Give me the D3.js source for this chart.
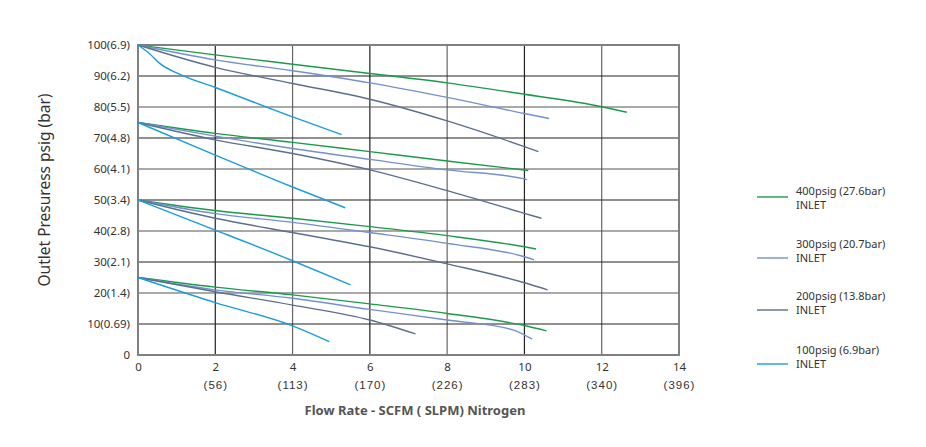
<!DOCTYPE html>
<html><head><meta charset="utf-8">
<script src="https://cdn.jsdelivr.net/npm/d3@7"></script>
<style>body{margin:0;background:#fff;}svg{display:block;font-family:"Noto Sans","Open Sans",sans-serif;}</style>
</head><body><svg id="c" width="926" height="447"></svg>
<script>
const xTicks = [0,2,4,6,8,10,12,14];
const xSubLabels = ["","(56)","(113)","(170)","(226)","(283)","(340)","(396)"];
const yTicks = [0,10,20,30,40,50,60,70,80,90,100];
const yLabels = ["0","10(0.69)","20(1.4)","30(2.1)","40(2.8)","50(3.4)","60(4.1)","70(4.8)","80(5.5)","90(6.2)","100(6.9)"];
const seriesNames = ["400psig (27.6bar)","300psig (20.7bar)","200psig (13.8bar)","100psig (6.9bar)"];
const seriesColors = ["#1a9b4b","#7391cf","#5b6f8f","#1b9ddb"];

// each series: four curves (outlet set 100, 75, 50, 25 psig)
const inlet400 = [
  [[0,100],[2,96.8],[4,93.8],[6,90.8],[8,87.8],[10,84.1],[12,80.1],[12.65,78.3]],
  [[0,75],[2,71.5],[4,68.6],[6,65.6],[8,62.6],[10.1,59.5]],
  [[0,50],[2,46.6],[4,44.1],[6,41.4],[8,38.5],[10,34.9],[10.3,34.2]],
  [[0,25],[2,21.9],[4,19.4],[6,16.5],[8,13.4],[10,9.5],[10.57,7.8]]
];
const inlet300 = [
  [[0,100],[2,95.2],[4,91.7],[6,87.8],[8,83.1],[10,77.9],[10.64,76.3]],
  [[0,75],[2,70.6],[4,66.6],[6,63.1],[8,59.7],[10,56.8],[10.07,56.5]],
  [[0,50],[2,45.6],[4,42.8],[6,39.5],[8,36.0],[10,31.7],[10.25,30.7]],
  [[0,25],[2,21.0],[4,18.3],[6,14.7],[8,11.3],[9.7,8.1],[10.2,5.1]]
];
const inlet200 = [
  [[0,100],[2,92.8],[4,87.6],[6,82.5],[8,75.5],[10,67.2],[10.36,65.6]],
  [[0,75],[2,69.4],[4,65.0],[6,59.7],[8,53.0],[10,45.7],[10.44,44.1]],
  [[0,50],[2,44.1],[4,39.5],[6,34.9],[8,29.4],[10,23.3],[10.6,21.0]],
  [[0,25],[2,20.4],[4,16.1],[6,11.3],[7.18,6.8]]
];
const inlet100 = [
  [[0,100],[0.3,97.2],[0.57,94.0],[1.13,90.3],[2,86.3],[4,76.8],[5.27,71.1]],
  [[0,75],[2,64.5],[4,54.2],[5.36,47.5]],
  [[0,50],[2,40.3],[4,30.4],[5.5,22.6]],
  [[0,25],[2,16.9],[4,9.4],[4.95,4.3]]
];
const allSeries = [inlet400, inlet300, inlet200, inlet100];

const svg = d3.select("#c");
const x = d3.scaleLinear().domain([0,14]).range([138,679]);
const y = d3.scaleLinear().domain([0,100]).range([355,45]);

// grid
const g = svg.append("g");
g.selectAll(".vg").data(xTicks.slice(1,-1)).enter().append("line")
  .attr("x1",d=>x(d)).attr("x2",d=>x(d)).attr("y1",y(0)).attr("y2",y(100))
  .attr("stroke",(d,i)=>i%2?"#666":"#222").attr("stroke-width",1.2);
g.selectAll(".hg").data(yTicks.slice(1,-1)).enter().append("line")
  .attr("x1",x(0)).attr("x2",x(14)).attr("y1",d=>y(d)).attr("y2",d=>y(d))
  .attr("stroke",(d,i)=>i%2?"#555":"#222").attr("stroke-width",1.2);
g.append("rect").attr("x",x(0)).attr("y",y(100)).attr("width",x(14)-x(0)).attr("height",y(0)-y(100))
  .attr("fill","none").attr("stroke","#808080").attr("stroke-width",2);

// axes labels
const xAxis = d3.axisBottom(x).tickValues(xTicks).tickSize(0).tickPadding(8);
const xa = svg.append("g").attr("transform",`translate(0,${y(0)})`).call(xAxis);
xa.select(".domain").remove();
xa.selectAll("text").attr("font-size",11.5).attr("fill","#333").attr("font-family","Noto Sans, sans-serif");
xa.selectAll(".tick").append("text").attr("y",26).attr("dy","0.71em").attr("fill","#333")
  .attr("font-size",11.5).attr("text-anchor","middle").attr("letter-spacing","1")
  .text((d,i)=>xSubLabels[i]);

const yAxis = d3.axisLeft(y).tickValues(yTicks).tickSize(0).tickPadding(8).tickFormat((d,i)=>yLabels[i]);
const ya = svg.append("g").attr("transform",`translate(${x(0)},0)`).call(yAxis);
ya.select(".domain").remove();
ya.selectAll("text").attr("font-size",11.5).attr("fill","#333").attr("font-family","Noto Sans, sans-serif");

svg.append("text").attr("transform","translate(50,190) rotate(-90)").attr("text-anchor","middle")
  .attr("font-size",15.5).attr("fill","#333").text("Outlet Presuress psig (bar)");
svg.append("text").attr("x",415).attr("y",415).attr("text-anchor","middle")
  .attr("font-size",13).attr("font-weight","bold").attr("fill","#555").text("Flow Rate - SCFM ( SLPM) Nitrogen");

// curves
const line = d3.line().x(d=>x(d[0])).y(d=>y(d[1])).curve(d3.curveMonotoneX);
allSeries.forEach((s,si)=>{
  s.forEach(c=>{
    svg.append("path").attr("d",line(c)).attr("fill","none")
      .attr("stroke",seriesColors[si]).attr("stroke-width",1.4);
  });
});

// legend
const legLineY = [197,258,310,364];
const legTextY = [195,248,300,354];
seriesNames.forEach((n,i)=>{
  svg.append("line").attr("x1",757).attr("x2",788).attr("y1",legLineY[i]).attr("y2",legLineY[i])
    .attr("stroke",seriesColors[i]).attr("stroke-width",1.4);
  const t = svg.append("text").attr("x",796).attr("y",legTextY[i]).attr("font-size",11).attr("fill","#333");
  t.append("tspan").attr("x",796).text(n);
  t.append("tspan").attr("x",796).attr("dy",14).text("INLET");
});
</script></body></html>
